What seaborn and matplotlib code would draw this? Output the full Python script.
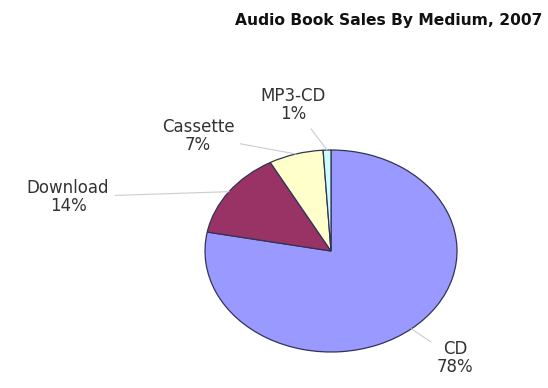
import matplotlib.pyplot as plt
import numpy as np
import seaborn as sns

# data
media = ['CD', 'Download', 'Cassette', 'MP3-CD']
shares = [78, 14, 7, 1]
colours = ['#9999FF', '#993366', '#FFFFCC', '#CCFFFF']

# where the labels sit (figure pixels, from top-left)
label_px = [(455, 358), (68, 197), (198, 136), (293, 105)]

sns.set_theme(style='white')
plt.rcParams['font.family'] = ['DejaVu Sans']

fig = plt.figure(figsize=(5.48, 3.88), dpi=100)
ax = fig.add_axes([0, 0, 1, 1])

wedges, _ = ax.pie(shares, colors=colours, startangle=90, counterclock=False,
                   wedgeprops=dict(edgecolor='#333355', linewidth=0.9))

# stretch the circle into the flat ellipse of the original
cx, cy, rx, ry = 331, 251, 126, 101
ax.set_aspect('auto')
ax.set_xlim((0 - cx) / rx, (548 - cx) / rx)
ax.set_ylim((cy - 388) / ry, (cy - 0) / ry)
ax.axis('off')

# labels with leader lines to the middle of each wedge
for w, name, pct, (px, py) in zip(wedges, media, shares, label_px):
    mid = np.deg2rad((w.theta1 + w.theta2) / 2)
    ax.annotate(f'{name}\n{pct}%', xy=(np.cos(mid), np.sin(mid)),
                xytext=(px, 388 - py), textcoords='figure pixels',
                ha='center', va='center', fontsize=12, color='#333333',
                linespacing=1.05,
                arrowprops=dict(arrowstyle='-', color='#cccccc', lw=0.8,
                                shrinkA=2, shrinkB=0))

fig.text(389 / 548, 1 - 20 / 388, 'Audio Book Sales By Medium, 2007',
         ha='center', va='center', fontsize=11.2, fontweight='bold',
         color='#111111')

fig.savefig('out.png', dpi=100)
